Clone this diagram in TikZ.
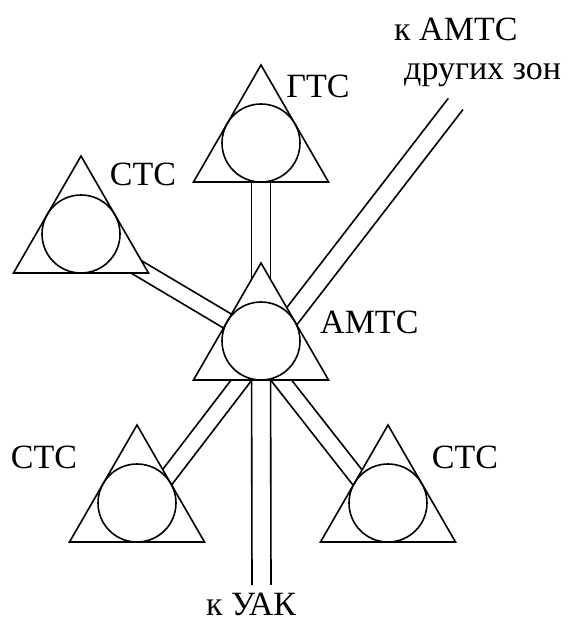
\documentclass[tikz,border=0pt]{standalone}
\usepackage{fontspec}
\setmainfont{Liberation Serif}
\usetikzlibrary{backgrounds,calc}
\tikzset{
  lw/.style={line width=1.6pt},
  station/.pic={
    \draw[lw, fill=white] (0,-78) -- (67.5,39) -- (-67.5,39) -- cycle;
    \node[circle, draw, lw, minimum size=78pt, inner sep=0pt] (-c) at (0,0) {};
  },
  lbl/.style={inner sep=0pt, font=\fontsize{34}{40}\selectfont}
}
% two parallel lines from #1 to #2 at signed offsets #3 and #4
\newcommand\twinline[4]{%
  \draw[lw] ($(#1)!#3!90:(#2)$) -- ($(#2)!#3!-90:(#1)$);
  \draw[lw] ($(#1)!#4!90:(#2)$) -- ($(#2)!#4!-90:(#1)$);}
\begin{document}
\begin{tikzpicture}[x=1pt,y=-1pt]
\useasboundingbox (0,0) rectangle (569,621);
\pic (gts) at (261,143) {station};
\pic (amts) at (261,341) {station};
\pic (stcl) at (81,234) {station};
\pic (stcbl) at (137,503) {station};
\pic (stcbr) at (388,503) {station};
\coordinate (uak) at (261.5,585);
\coordinate (zone) at (448.3,98.3);
\begin{scope}[on background layer]
  \twinline{gts-c.center}{amts-c.center}{9.5pt}{-9.5pt}
  \twinline{amts-c.center}{uak}{9.5pt}{-9.5pt}
  \twinline{amts-c.center}{zone}{0pt}{-18.5pt}
  \twinline{stcl-c.center}{amts-c.center}{8pt}{-8pt}
  \twinline{amts-c.center}{stcbl-c.center}{0pt}{16.5pt}
  \twinline{amts-c.center}{stcbr-c.center}{0pt}{-16.5pt}
\end{scope}
\node[lbl] (tgts) at (318,86.5) {ГТС};
\node[lbl] (tstcl) at (143,174) {СТС};
\node[lbl, anchor=west] (tamts) at (320,322) {АМТС};
\node[lbl] (tstcbl) at (44,457) {СТС};
\node[lbl] (tstcbr) at (465,457) {СТС};
\node[lbl, anchor=base west] (tuak) at (206,615) {к УАК};
\node[lbl, anchor=base west] (tz1) at (394,40.5) {к АМТС};
\node[lbl, anchor=base west] (tz2) at (404,79) {других зон};
\end{tikzpicture}
\end{document}
